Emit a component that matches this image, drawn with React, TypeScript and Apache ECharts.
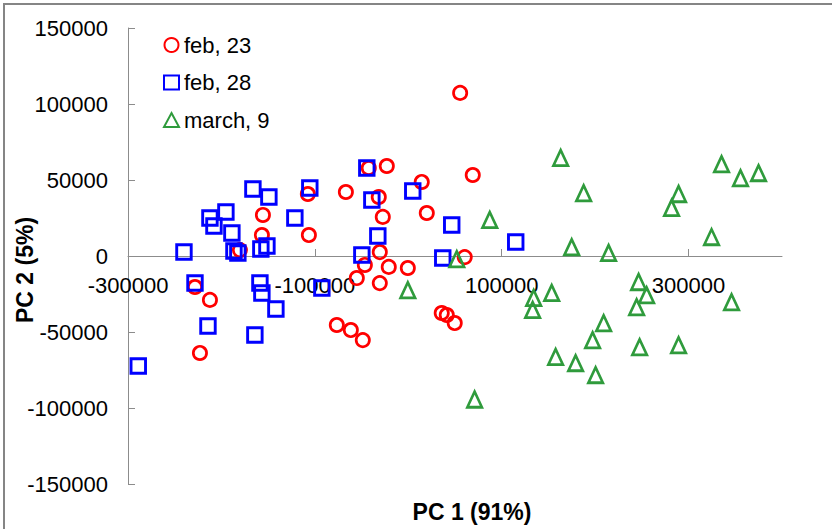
import React, { useEffect, useRef } from "react";
import * as echarts from "echarts";

// Series values: [PC1, PC2]
const feb23: number[][] = [
  [-228300, -20400], [-223000, -63800], [-212300, -28900], [-180200, 3900],
  [-155600, 27000], [-156700, 13800], [-107500, 40800], [-106400, 13800],
  [-76500, -45400], [-66800, 42100], [-61500, -48700], [-55100, -14500],
  [-48700, -55300], [-46500, -5900], [-42300, 57900], [-31600, 38800],
  [-30500, 2600], [-30500, -17800], [-27300, 25700], [-23000, 59200],
  [-20900, -7200], [-500, -7900], [14400, 48700], [19800, 28300],
  [35800, -37500], [41200, -38800], [49700, -44100], [55500, 107300],
  [60400, -700], [69000, 53300],
];

const feb28: number[][] = [
  [-289000, -72400], [-240100, 2600], [-228300, -17800], [-214400, -46100],
  [-212300, 25000], [-208000, 19700], [-195200, 28900], [-188800, 15100],
  [-186600, 3300], [-182400, 2000], [-166300, 44100], [-164200, -52000],
  [-158800, -17800], [-157800, 4600], [-156700, -24300], [-151300, 6600],
  [-149200, 38800], [-141700, -34900], [-121400, 25000], [-105400, 44700],
  [-92500, -21100], [-49700, 700], [-44400, 57900], [-39000, 36800],
  [-32600, 13200], [4800, 42800], [36900, -1300], [46500, 20400],
  [115000, 9200],
];

const march9: number[][] = [
  [-500, -22400], [51900, -2000], [87200, 23700], [71000, -94400],
  [134200, -27600], [133100, -35500], [153500, -24300], [157700, -66400],
  [163100, 64500], [174900, 5900], [179100, -70400], [187700, 41400],
  [197300, -55300], [200500, -78300], [209100, -44100], [214400, 2000],
  [244400, -33600], [246500, -17100], [247600, -59900], [255100, -25700],
  [281800, 31600], [289300, 40800], [289300, -58600], [324600, 12500],
  [335300, 60500], [346000, -30300], [355600, 51300], [374900, 54600],
];

const seriesNames: string[] = ["feb, 23", "feb, 28", "march, 9"];
const xLabelValues: number[] = [-300000, -100000, 100000, 300000];
const xTickValues: number[] = [-100000, 100000, 300000];

const RED = "#ff0000";
const BLUE = "#0000ff";
const GREEN = "#2f9b3c";
const FONT = "Liberation Sans, Arial, sans-serif";

const GRID_TOP = 28;
const GRID_BOTTOM = 45;
const CHART_H = 529;

export default function App() {
  const ref = useRef<HTMLDivElement>(null);

  useEffect(() => {
    document.body.style.margin = "0";
    if (!ref.current) return;
    const chart = echarts.init(ref.current, null, { renderer: "svg" });
    const hollow = (c: string, w: number) => ({
      color: "rgba(0,0,0,0)",
      borderColor: c,
      borderWidth: w,
      opacity: 1,
    });
    // x axis sits at y = 0, i.e. the middle of the symmetric y range
    const plotH = CHART_H - GRID_TOP - GRID_BOTTOM;
    const xAxisOffset = -plotH / 2;
    chart.setOption({
      animation: false,
      backgroundColor: "#ffffff",
      textStyle: { fontFamily: FONT },
      grid: { left: 128, right: 50, top: GRID_TOP, bottom: GRID_BOTTOM, containLabel: false },
      legend: {
        orient: "vertical",
        left: 163,
        top: 34,
        padding: 0,
        itemWidth: 15,
        itemHeight: 14,
        itemGap: 15.5,
        textStyle: { fontSize: 22, color: "#000", fontFamily: FONT },
        data: seriesNames,
      },
      xAxis: {
        type: "value",
        min: -300000,
        max: 400000,
        interval: 100000,
        offset: xAxisOffset,
        splitLine: { show: false },
        axisLine: { onZero: false, lineStyle: { color: "#8c8c8c", width: 1 } },
        axisTick: {
          show: true,
          inside: true,
          length: 7,
          customValues: xTickValues,
          lineStyle: { color: "#8c8c8c" },
        },
        axisLabel: {
          customValues: xLabelValues,
          margin: 18,
          fontSize: 22,
          color: "#000",
          fontFamily: FONT,
          formatter: (v: number) => String(v),
        },
      },
      yAxis: {
        type: "value",
        min: -150000,
        max: 150000,
        interval: 50000,
        splitLine: { show: false },
        axisLine: { show: true, onZero: false, lineStyle: { color: "#8c8c8c", width: 1 } },
        axisTick: { show: true, inside: true, length: 7, lineStyle: { color: "#8c8c8c" } },
        axisLabel: {
          margin: 20,
          fontSize: 22,
          color: "#000",
          fontFamily: FONT,
          formatter: (v: number) => String(v),
        },
      },
      graphic: [
        {
          type: "rect",
          shape: { x: 4, y: 4, width: 860, height: 560 },
          style: { fill: "none", stroke: "#858585", lineWidth: 2 },
          silent: true,
          z: 100,
        },
        {
          type: "text",
          x: 472,
          y: 512,
          style: {
            text: "PC 1 (91%)",
            font: `bold 23px ${FONT}`,
            fill: "#000",
            textAlign: "center",
            textVerticalAlign: "middle",
          },
        },
        {
          type: "text",
          x: 25,
          y: 270,
          rotation: Math.PI / 2,
          style: {
            text: "PC 2 (5%)",
            font: `bold 23px ${FONT}`,
            fill: "#000",
            textAlign: "center",
            textVerticalAlign: "middle",
          },
        },
      ],
      series: [
        {
          name: seriesNames[0],
          type: "scatter",
          symbol: "circle",
          symbolSize: 13.3,
          itemStyle: hollow(RED, 2.7),
          data: feb23,
        },
        {
          name: seriesNames[1],
          type: "scatter",
          symbol: "rect",
          symbolSize: 14.5,
          itemStyle: hollow(BLUE, 2.9),
          data: feb28,
        },
        {
          name: seriesNames[2],
          type: "scatter",
          symbol: "triangle",
          symbolSize: [14.5, 15.5],
          itemStyle: hollow(GREEN, 2.7),
          data: march9,
        },
      ],
    });
    return () => chart.dispose();
  }, []);

  return (
    <div
      ref={ref}
      style={{ position: "absolute", left: 0, top: 0, width: 832, height: 529 }}
    />
  );
}
